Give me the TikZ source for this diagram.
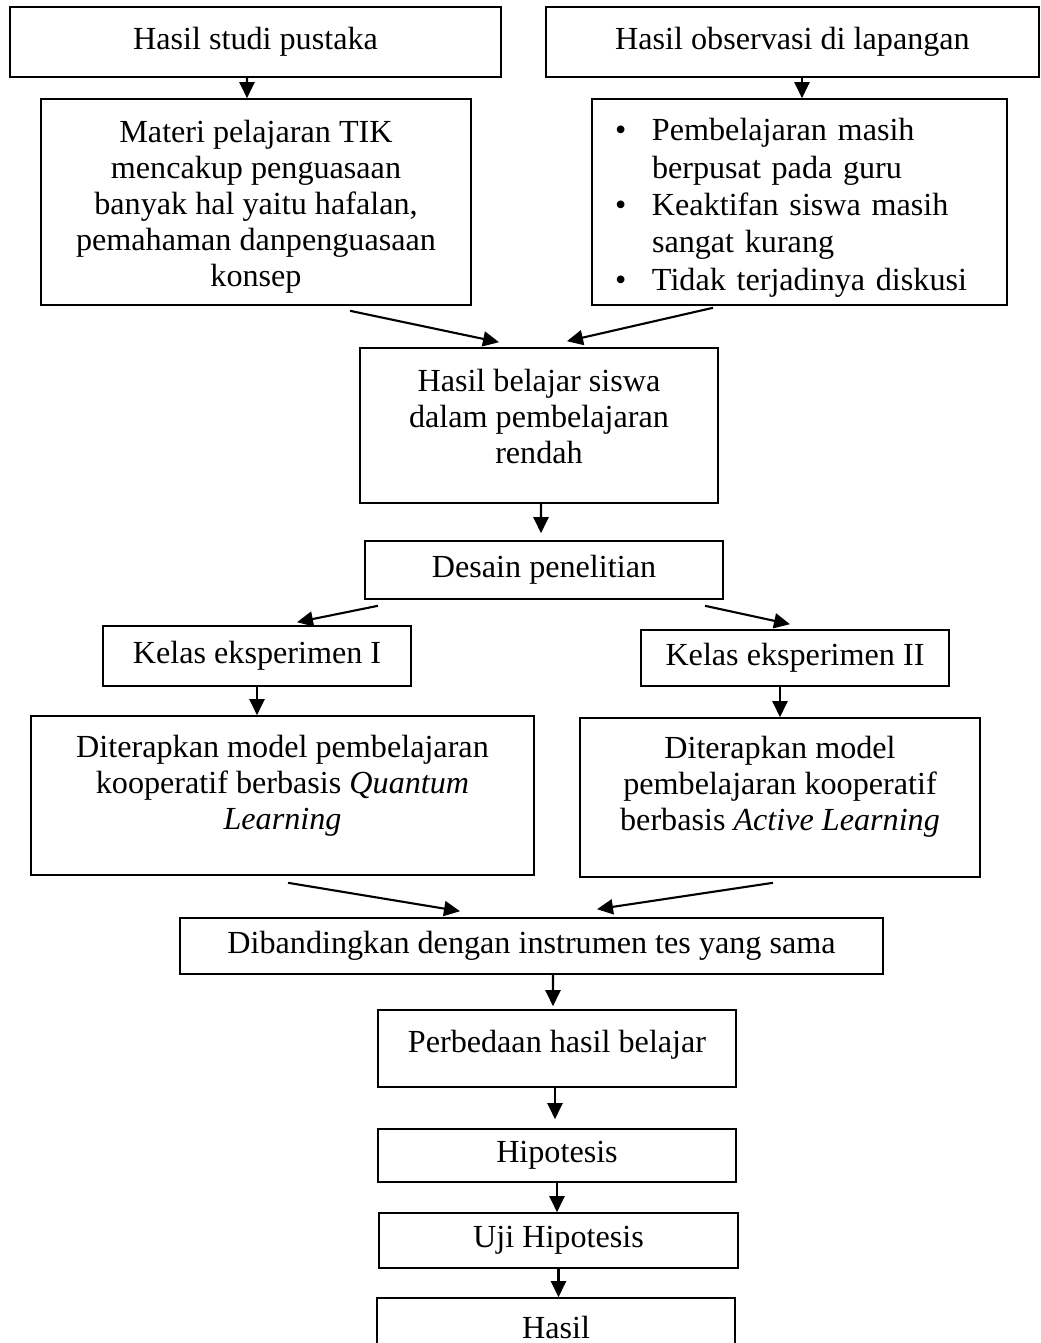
\documentclass[tikz,border=0pt]{standalone}
\usepackage{fontspec}
\setmainfont{Liberation Serif}
\usetikzlibrary{arrows.meta}

\begin{document}
\begin{tikzpicture}[font=\fontsize{18.3}{20.5}\selectfont,
  box/.style={draw,line width=0.9pt,align=center,inner sep=0pt},
  arr/.style={line width=1.2pt,-{Triangle[length=0.32cm,width=0.30cm]}}]
\useasboundingbox (0,0) rectangle (20.82,-26.86);

\node[box,minimum width=9.82cm,minimum height=1.40cm] (stud) at (5.11,-0.84) {Hasil studi pustaka};
\node[box,minimum width=9.86cm,minimum height=1.40cm] (obs) at (15.85,-0.84) {Hasil observasi di lapangan};
\node[box,text height=3.53cm,minimum width=8.60cm,minimum height=4.12cm] (mat) at (5.12,-4.04) {Materi pelajaran TIK\\mencakup penguasaan\\banyak hal yaitu hafalan,\\pemahaman danpenguasaan\\konsep};
\node[box,align=left,font=\fontsize{18.3}{21.3}\selectfont,text height=0.68cm,text width=7.38cm,inner xsep=0.46cm,minimum width=8.30cm,minimum height=4.12cm] (ciri) at (15.99,-4.04)
  {\makebox[0.74cm][l]{\textbullet}Pembelajaran masih\\\hspace*{0.74cm}berpusat pada guru\\\makebox[0.74cm][l]{\textbullet}Keaktifan siswa masih\\\hspace*{0.74cm}sangat kurang\\\makebox[0.74cm][l]{\textbullet}Tidak terjadinya diskusi};
\node[box,text depth=0.36cm,minimum width=7.16cm,minimum height=3.10cm] (rendah) at (10.78,-8.51) {Hasil belajar siswa\\dalam pembelajaran\\rendah};
\node[box,minimum width=7.16cm,minimum height=1.16cm] (desain) at (10.88,-11.40) {Desain penelitian};
\node[box,minimum width=6.16cm,minimum height=1.20cm] (kelas1) at (5.14,-13.12) {Kelas eksperimen I};
\node[box,minimum width=6.16cm,minimum height=1.12cm] (kelas2) at (15.90,-13.16) {Kelas eksperimen II};
\node[box,text depth=0.54cm,minimum width=10.06cm,minimum height=3.18cm] (quantum) at (5.65,-15.91) {Diterapkan model pembelajaran\\kooperatif berbasis \textit{Quantum}\\\textit{Learning}};
\node[box,text depth=0.58cm,minimum width=8.00cm,minimum height=3.18cm] (active) at (15.60,-15.95) {Diterapkan model\\pembelajaran kooperatif\\berbasis \textit{Active Learning}};
\node[box,minimum width=14.06cm,minimum height=1.12cm] (banding) at (10.63,-18.92) {Dibandingkan dengan instrumen tes yang sama};
\node[box,text depth=0.30cm,minimum width=7.16cm,minimum height=1.54cm] (beda) at (11.14,-20.97) {Perbedaan hasil belajar};
\node[box,minimum width=7.16cm,minimum height=1.06cm] (hipo) at (11.14,-23.11) {Hipotesis};
\node[box,minimum width=7.18cm,minimum height=1.10cm] (uji) at (11.17,-24.81) {Uji Hipotesis};
\node[box,minimum width=7.16cm,minimum height=1.16cm] (hasil) at (11.12,-26.54) {Hasil};

\draw[arr] ([xshift=-0.17cm]stud.south) -- ([xshift=-0.18cm]mat.north);
\draw[arr] ([xshift=0.19cm]obs.south) -- ([xshift=0.05cm]ciri.north);
\draw[arr] ([shift={(1.88,-0.10)}]mat.south) -- ([shift={(-0.80,0.10)}]rendah.north);
\draw[arr] ([shift={(-1.73,-0.04)}]ciri.south) -- ([shift={(0.56,0.12)}]rendah.north);
\draw[arr] ([xshift=0.04cm]rendah.south) -- ([shift={(-0.06,0.14)}]desain.north);
\draw[arr] ([shift={(-3.32,-0.12)}]desain.south) -- ([shift={(0.80,0.06)}]kelas1.north);
\draw[arr] ([shift={(3.22,-0.12)}]desain.south) -- ([shift={(-0.10,0.10)}]kelas2.north);
\draw[arr] (kelas1.south) -- (kelas1.south |- quantum.north);
\draw[arr] (active.north |- kelas2.south) -- (active.north);
\draw[arr] ([shift={(0.11,-0.14)}]quantum.south) -- ([shift={(-1.43,0.12)}]banding.north);
\draw[arr] ([shift={(-0.14,-0.10)}]active.south) -- ([shift={(1.31,0.16)}]banding.north);
\draw[arr] ([xshift=0.43cm]banding.south) -- ([shift={(-0.08,0.06)}]beda.north);
\draw[arr,shorten >=0.18cm] ([xshift=-0.04cm]beda.south) -- ([xshift=-0.04cm]hipo.north);
\draw[arr] (hipo.south) -- (hipo.south |- uji.north);
\draw[arr] (uji.south) -- (uji.south |- hasil.north);
\end{tikzpicture}
\end{document}
